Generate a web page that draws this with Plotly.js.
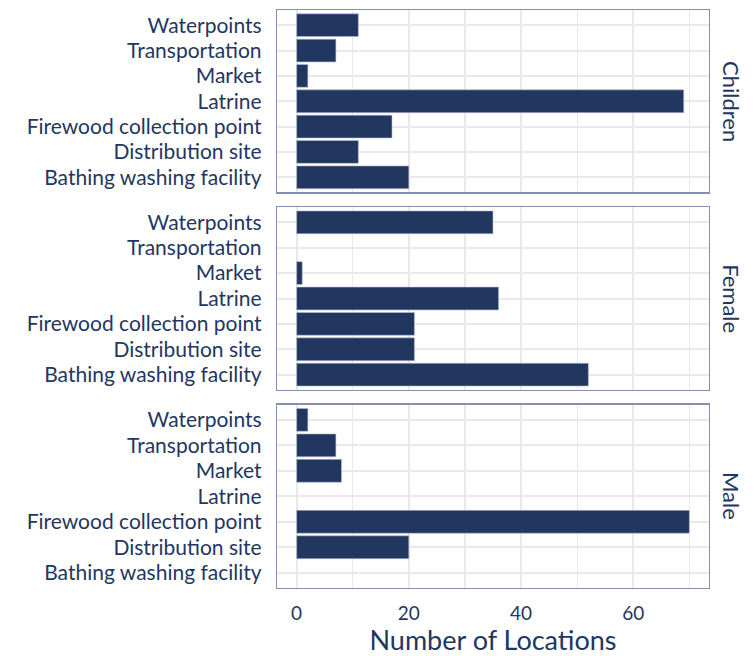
<!DOCTYPE html>
<html><head><meta charset="utf-8">
<script src="https://cdn.plot.ly/plotly-3.0.1.min.js"></script>
<style>body{margin:0;background:#fff}</style>
</head><body><div id="chart" style="width:754px;height:656px"></div>
<script>
const categories = ["Bathing washing facility","Distribution site","Firewood collection point","Latrine","Market","Transportation","Waterpoints"];
const panels = ["Children","Female","Male"];
const childrenValues = [20, 11, 17, 69, 2, 7, 11];
const femaleValues = [52, 21, 21, 36, 1, null, 35];
const maleValues = [null, 20, 70, null, 8, 7, 2];
const xTicks = [0, 20, 40, 60];

const navy = "#22375f";
const border = "#8590ad";
const grid = "#e9e9e9";
const font = "Lato, 'Open Sans', sans-serif";
const seriesList = [childrenValues, femaleValues, maleValues];

const W = 754, H = 656;
const L = 276.7, R = 708.7, T = 10.3, B = 588;
const ph = B - T;
const panelPx = [[10.3, 192.7], [207.3, 390], [404.7, 588]];

const traces = seriesList.map((vals, i) => ({
  type: "bar", orientation: "h",
  x: vals, y: categories,
  xaxis: i === 0 ? "x" : "x" + (i + 1),
  yaxis: i === 0 ? "y" : "y" + (i + 1),
  width: 0.9,
  marker: {color: navy, line: {color: "#b8c0d4", width: 0.6}},
  hoverinfo: "x+y", showlegend: false
}));

const layout = {
  width: W, height: H,
  margin: {l: L, r: W - R, t: T, b: H - B},
  paper_bgcolor: "#fff", plot_bgcolor: "#fff",
  font: {family: font, color: navy},
  bargap: 0.1,
  annotations: []
};

panelPx.forEach((p, i) => {
  const s = i === 0 ? "" : String(i + 1);
  const d0 = (B - p[1]) / ph, d1 = (B - p[0]) / ph;
  layout["xaxis" + s] = {
    anchor: "y" + s, domain: [0, 1], range: [-3.5, 73.5],
    tickmode: "array", tickvals: xTicks, ticktext: xTicks.map(String),
    showticklabels: i === 2, ticks: "outside", ticklen: 8, tickcolor: "rgba(0,0,0,0)",
    showgrid: true, gridcolor: grid, gridwidth: 2,
    minor: {tickvals: [10, 30, 50, 70], showgrid: true, gridcolor: grid, gridwidth: 1.2},
    zeroline: false, showline: true, mirror: true, linecolor: border, linewidth: 1.2,
    tickfont: {size: 19, color: navy, family: font},
    title: i === 2 ? {text: "Number of Locations", font: {size: 27, color: navy, family: font}, standoff: 12} : {text: ""}
  };
  if (i !== 0) layout["xaxis" + s].matches = "x";
  layout["yaxis" + s] = {
    anchor: "x" + s, domain: [d0, d1], range: [-0.6, 6.6],
    type: "category", categoryorder: "array", categoryarray: categories,
    tickmode: "array", tickvals: categories, ticktext: categories,
    showgrid: true, gridcolor: grid, gridwidth: 2,
    zeroline: false, showline: true, mirror: true, linecolor: border, linewidth: 1.2,
    ticks: "outside", ticklen: 10, tickcolor: "rgba(0,0,0,0)",
    tickfont: {size: 21, color: navy, family: font}
  };
  layout.annotations.push({
    text: panels[i], xref: "paper", yref: "paper",
    x: (731 - L) / (R - L), y: (d0 + d1) / 2,
    xanchor: "center", yanchor: "middle", textangle: 90, showarrow: false,
    font: {size: 22, color: navy, family: font}
  });
});

Plotly.newPlot("chart", traces, layout, {displayModeBar: false, staticPlot: true});
</script></body></html>
